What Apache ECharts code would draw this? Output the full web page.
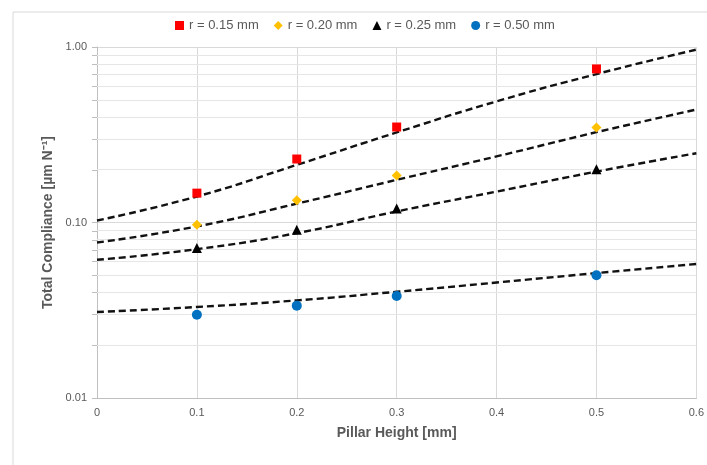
<!DOCTYPE html>
<html>
<head>
    <meta charset="UTF-8">
    <title>Total Compliance</title>
    <style>
        html, body { margin: 0; padding: 0; background: #fff; }
    </style>
</head>
<body>
<div id="main" style="width: 707px;height: 465px;"></div>
<script src="https://cdn.jsdelivr.net/npm/echarts@6/dist/echarts.min.js"></script>
<script>
    // measured points (x = pillar height, mm)
    var heights = [0.1, 0.2, 0.3, 0.5];
    var r015 = [0.147, 0.230, 0.350, 0.750];
    var r020 = [0.097, 0.134, 0.185, 0.348];
    var r025 = [0.0715, 0.091, 0.120, 0.201];
    var r050 = [0.0298, 0.0336, 0.0381, 0.050];

    // dashed trend lines
    var trendX = [0, 0.1, 0.2, 0.3, 0.4, 0.5, 0.6];
    var trend015 = [0.1026, 0.1407, 0.213, 0.326, 0.490, 0.701, 0.966];
    var trend020 = [0.0769, 0.095, 0.128, 0.175, 0.238, 0.327, 0.440];
    var trend025 = [0.0613, 0.0705, 0.087, 0.1156, 0.150, 0.195, 0.248];
    var trend050 = [0.0309, 0.033, 0.036, 0.0403, 0.0455, 0.0515, 0.058];

    var names = ['r = 0.15 mm', 'r = 0.20 mm', 'r = 0.25 mm', 'r = 0.50 mm'];
    var minorTicks = [0.02, 0.03, 0.04, 0.05, 0.06, 0.07, 0.08, 0.09,
                      0.2, 0.3, 0.4, 0.5, 0.6, 0.7, 0.8, 0.9];

    function zip(xs, ys) {
        return xs.map(function (x, i) { return [x, ys[i]]; });
    }

    var textGray = '#595959';
    var font = 'Liberation Sans, Arial, sans-serif';

    function trend(data) {
        return {
            type: 'line',
            data: zip(trendX, data),
            smooth: true,
            showSymbol: false,
            silent: true,
            z: 3,
            lineStyle: { color: '#111', width: 2.4, type: [7, 4] }
        };
    }

    function points(name, data, symbol, color, size) {
        return {
            name: name,
            type: 'scatter',
            data: zip(heights, data),
            symbol: symbol,
            symbolSize: size,
            z: 4,
            itemStyle: { color: color, opacity: 1 }
        };
    }

    var myChart = echarts.init(document.getElementById('main'));

    var minorLines = trend(trend015);
    minorLines.markLine = {
        silent: true,
        symbol: 'none',
        label: { show: false },
        lineStyle: { color: '#e6e6e6', width: 1, type: 'solid' },
        data: minorTicks.map(function (v) { return { yAxis: v }; }),
        z: 1
    };

    var option = {
        animation: false,
        textStyle: { fontFamily: font },
        legend: {
            top: 14,
            left: 170,
            itemWidth: 9,
            itemHeight: 9,
            itemGap: 15,
            data: names,
            textStyle: { color: textGray, fontSize: 13, fontFamily: font }
        },
        grid: { left: 97, right: 9, top: 47, bottom: 67 },
        xAxis: {
            type: 'value',
            min: 0,
            max: 0.6,
            interval: 0.1,
            name: 'Pillar Height [mm]',
            nameLocation: 'middle',
            nameGap: 28,
            nameTextStyle: { color: textGray, fontSize: 14, fontWeight: 'bold', fontFamily: font },
            axisLine: { lineStyle: { color: '#bfbfbf', width: 1 } },
            axisTick: { show: false },
            axisLabel: { color: textGray, fontSize: 11, margin: 9 },
            splitLine: { show: true, lineStyle: { color: '#d9d9d9', width: 1 } }
        },
        yAxis: {
            type: 'log',
            logBase: 10,
            min: 0.01,
            max: 1,
            name: 'Total Compliance [µm N⁻¹]',
            nameLocation: 'middle',
            nameGap: 37,
            nameTextStyle: { color: textGray, fontSize: 14, fontWeight: 'bold', fontFamily: font },
            axisLine: { show: true, lineStyle: { color: '#bfbfbf', width: 1 } },
            axisTick: { show: true, length: 5, lineStyle: { color: '#bfbfbf' } },
            axisLabel: {
                color: textGray, fontSize: 11, margin: 10,
                formatter: function (v) { return v.toFixed(2); }
            },
            splitLine: { show: true, lineStyle: { color: '#d9d9d9', width: 1 } }
        },
        series: [
            minorLines,
            trend(trend020),
            trend(trend025),
            trend(trend050),
            points(names[0], r015, 'rect', '#ff0000', 9),
            points(names[1], r020, 'diamond', '#ffc000', 10),
            points(names[2], r025, 'triangle', '#000000', 10),
            points(names[3], r050, 'circle', '#0070c0', 10)
        ]
    };

    myChart.setOption(option);

    // outer frame plus the small minor ticks left of the y axis
    var left = myChart.convertToPixel({ xAxisIndex: 0 }, 0);
    var els = [
        { type: 'line', shape: { x1: 13, y1: 12, x2: 707, y2: 12 }, style: { stroke: '#d9d9d9', lineWidth: 1 } },
        { type: 'line', shape: { x1: 13, y1: 12, x2: 13, y2: 465 }, style: { stroke: '#d9d9d9', lineWidth: 1 } }
    ];
    minorTicks.forEach(function (v) {
        var y = Math.round(myChart.convertToPixel({ yAxisIndex: 0 }, v)) + 0.5;
        els.push({ type: 'line', shape: { x1: left - 5, y1: y, x2: left, y2: y },
                   style: { stroke: '#bfbfbf', lineWidth: 1 }, silent: true });
    });
    myChart.setOption({ graphic: els });
</script>
</body>
</html>
